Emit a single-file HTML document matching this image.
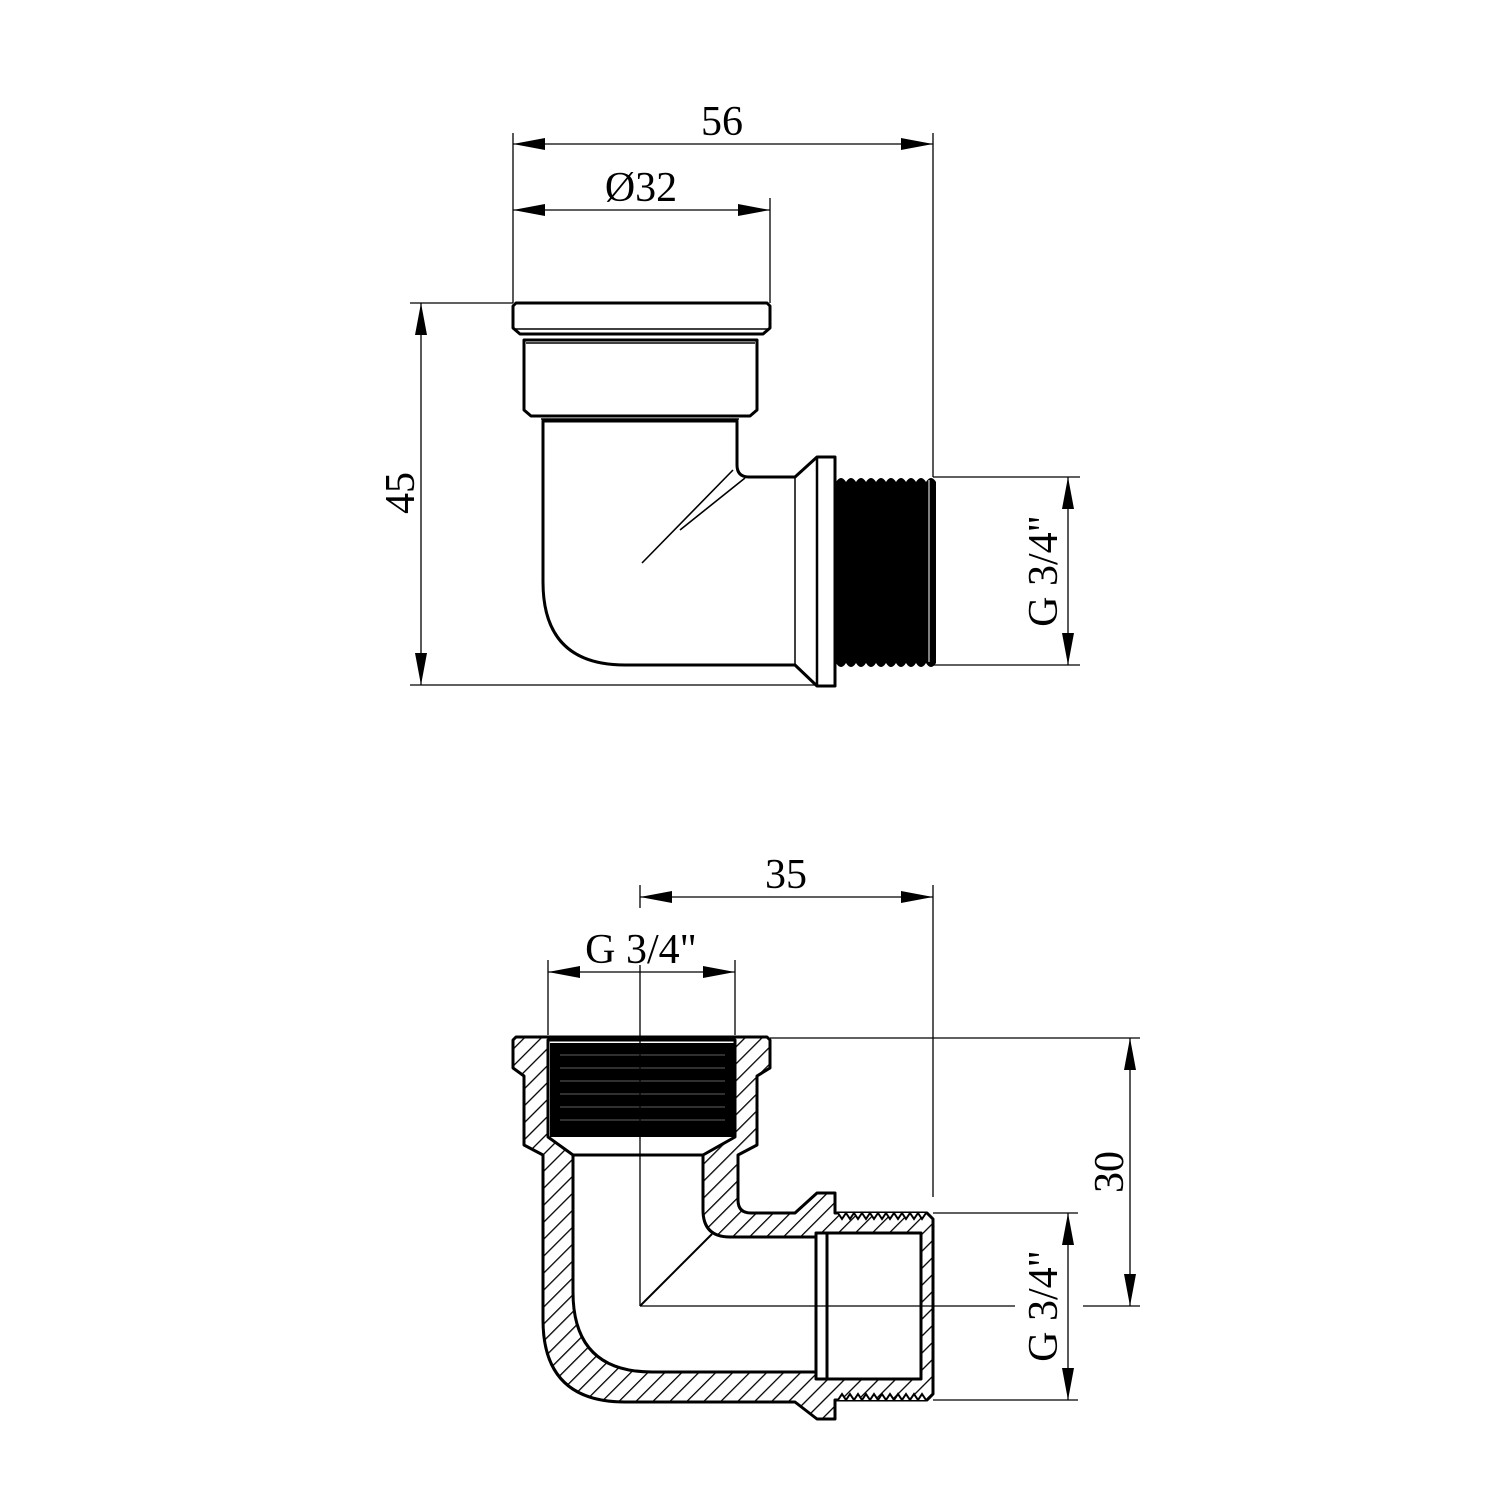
<!DOCTYPE html>
<html><head><meta charset="utf-8"><style>
html,body{margin:0;padding:0;background:#fff}
svg{display:block}
text{font-family:"Liberation Serif",serif;font-size:42px;fill:#000}
</style></head><body>
<svg width="1500" height="1500" viewBox="0 0 1500 1500" xmlns="http://www.w3.org/2000/svg">
<defs>
<pattern id="h" patternUnits="userSpaceOnUse" width="12" height="12" patternTransform="rotate(45)">
<rect width="12" height="12" fill="#fff"/>
<line x1="0" y1="0" x2="0" y2="12" stroke="#000" stroke-width="2.6"/>
</pattern>
</defs>

<!-- ================= TOP VIEW ================= -->
<g fill="none" stroke="#000" stroke-width="1.3">
<line x1="513" y1="133" x2="513" y2="303"/>
<line x1="770" y1="198" x2="770" y2="303"/>
<line x1="933" y1="133" x2="933" y2="477"/>
<line x1="410" y1="303" x2="513" y2="303"/>
<line x1="410" y1="685" x2="820" y2="685"/>
<line x1="933" y1="477" x2="1080" y2="477"/>
<line x1="933" y1="665" x2="1080" y2="665"/>
<line x1="513" y1="144" x2="933" y2="144"/>
<line x1="513" y1="210" x2="770" y2="210"/>
<line x1="421" y1="303" x2="421" y2="685"/>
<line x1="1068" y1="477" x2="1068" y2="665"/>
</g>
<g fill="#000">
<polygon points="513,144 545,138 545,150"/><polygon points="933,144 901,138 901,150"/>
<polygon points="513,210 545,204 545,216"/><polygon points="770,210 738,204 738,216"/>
<polygon points="421,303 415,335 427,335"/><polygon points="421,685 415,653 427,653"/>
<polygon points="1068,477 1062,509 1074,509"/><polygon points="1068,665 1062,633 1074,633"/>
</g>
<text x="722" y="135" text-anchor="middle">56</text>
<text x="641" y="201" text-anchor="middle">Ø32</text>
<text transform="translate(414,493) rotate(-90)" text-anchor="middle">45</text>
<text transform="translate(1057,571) rotate(-90)" text-anchor="middle">G 3/4"</text>

<g fill="#fff" stroke="#000" stroke-width="3" stroke-linejoin="round">
<path d="M516,303 L767,303 L770,306 L770,328 L763,334 L520,334 L513,328 L513,306 Z"/>
<line x1="515" y1="329" x2="768" y2="329" stroke-width="1.5"/>
<path d="M524,340 L757,340 L757,410 L750,416 L531,416 L524,410 Z"/>
<line x1="526" y1="343" x2="755" y2="343" stroke-width="1.5"/>
<path d="M543,421 L737,421 L737,465 Q737,477 749,477 L795,477 L817,457 L835,457 L835,686 L817,686 L795,665 L625,665 Q543,665 543,582 Z"/>
<line x1="541" y1="419" x2="739" y2="419" stroke-width="1.5"/>
<line x1="795" y1="477" x2="795" y2="665" stroke-width="1.5"/>
<line x1="817" y1="457" x2="817" y2="686" stroke-width="2.5"/>
</g>
<g stroke="#000" stroke-width="1.6" fill="none">
<line x1="733" y1="470" x2="642" y2="563"/>
<line x1="745" y1="478" x2="680" y2="530"/>
</g>
<rect x="836" y="482" width="96" height="181" fill="#000"/>
<path d="M836,482 q5,-8 10,0 q5,-8 10,0 q5,-8 10,0 q5,-8 10,0 q5,-8 10,0 q5,-8 10,0 q5,-8 10,0 q5,-8 10,0 q5,-8 10,0 q5,-8 10,0 V663 q-5,8 -10,0 q-5,8 -10,0 q-5,8 -10,0 q-5,8 -10,0 q-5,8 -10,0 q-5,8 -10,0 q-5,8 -10,0 q-5,8 -10,0 q-5,8 -10,0 q-5,8 -10,0 Z" fill="#000"/>
<line x1="929" y1="480" x2="929" y2="662" stroke="#fff" stroke-width="1"/>

<!-- ================= BOTTOM VIEW ================= -->
<g fill="none" stroke="#000" stroke-width="1.3">
<line x1="640" y1="885" x2="640" y2="908"/>
<line x1="933" y1="885" x2="933" y2="1197"/>
<line x1="548" y1="960" x2="548" y2="1035"/>
<line x1="735" y1="960" x2="735" y2="1035"/>
<line x1="770" y1="1038" x2="1140" y2="1038"/>
<line x1="1083" y1="1306" x2="1140" y2="1306"/>
<line x1="933" y1="1213" x2="1078" y2="1213"/>
<line x1="933" y1="1400" x2="1078" y2="1400"/>
<line x1="640" y1="897" x2="933" y2="897"/>
<line x1="548" y1="972" x2="735" y2="972"/>
<line x1="1130" y1="1038" x2="1130" y2="1306"/>
<line x1="1068" y1="1213" x2="1068" y2="1400"/>
</g>
<g fill="#000">
<polygon points="640,897 672,891 672,903"/><polygon points="933,897 901,891 901,903"/>
<polygon points="548,972 580,966 580,978"/><polygon points="735,972 703,966 703,978"/>
<polygon points="1130,1038 1124,1070 1136,1070"/><polygon points="1130,1306 1124,1274 1136,1274"/>
<polygon points="1068,1213 1062,1245 1074,1245"/><polygon points="1068,1400 1062,1368 1074,1368"/>
</g>
<text x="786" y="888" text-anchor="middle">35</text>
<text x="641" y="963" text-anchor="middle">G 3/4"</text>
<text transform="translate(1123,1172) rotate(-90)" text-anchor="middle">30</text>
<text transform="translate(1057,1306) rotate(-90)" text-anchor="middle">G 3/4"</text>

<g stroke="#000" stroke-width="3" stroke-linejoin="round">
<path fill="url(#h)" d="M516,1037 L767,1037 L770,1040 L770,1068 L757,1076 L757,1145 L738,1155 L738,1200 Q738,1213 751,1213 L795,1213 L817,1193 L835,1193 L835,1213 L927,1213 L933,1219 L933,1394 L927,1400 L835,1400 L835,1419 L817,1419 L795,1402 L625,1402 Q543,1402 543,1320 L543,1155 L524,1145 L524,1076 L513,1068 L513,1040 Z"/>
<path fill="#fff" d="M548,1040 L735,1040 L735,1137 L703,1155 L703,1210 Q703,1237 730,1237 L816,1237 L816,1233 L921,1233 L921,1379 L816,1379 L816,1372 L652,1372 Q573,1372 573,1292 L573,1155 L548,1137 Z"/>
<line x1="573" y1="1155" x2="703" y2="1155" fill="none"/>
<line x1="816" y1="1237" x2="816" y2="1372" fill="none"/>
<line x1="827" y1="1233" x2="827" y2="1379" fill="none"/>
</g>
<rect x="550" y="1043" width="184" height="94" fill="#000"/>
<g stroke="#fff" stroke-width="0.8" opacity="0.5">
<line x1="560" y1="1055" x2="725" y2="1055"/><line x1="560" y1="1068" x2="725" y2="1068"/>
<line x1="560" y1="1081" x2="725" y2="1081"/><line x1="560" y1="1094" x2="725" y2="1094"/>
<line x1="560" y1="1107" x2="725" y2="1107"/><line x1="560" y1="1120" x2="725" y2="1120"/>
</g>
<path d="M838,1213 l4,6 l4,-6 l4,6 l4,-6 l4,6 l4,-6 l4,6 l4,-6 l4,6 l4,-6 l4,6 l4,-6 l4,6 l4,-6 l4,6 l4,-6 l4,6 l4,-6 l4,6 l4,-6 l4,6 l4,-6" fill="#fff" stroke="#000" stroke-width="2"/>
<path d="M838,1400 l4,-6 l4,6 l4,-6 l4,6 l4,-6 l4,6 l4,-6 l4,6 l4,-6 l4,6 l4,-6 l4,6 l4,-6 l4,6 l4,-6 l4,6 l4,-6 l4,6 l4,-6 l4,6 l4,-6 l4,6" fill="#fff" stroke="#000" stroke-width="2"/>
<g stroke="#000" stroke-width="1.3" fill="none">
<line x1="640" y1="965" x2="640" y2="1306"/>
<line x1="640" y1="1306" x2="1015" y2="1306"/>
<line x1="640" y1="1306" x2="712" y2="1234" stroke-width="2"/>
</g>
</svg>
</body></html>
